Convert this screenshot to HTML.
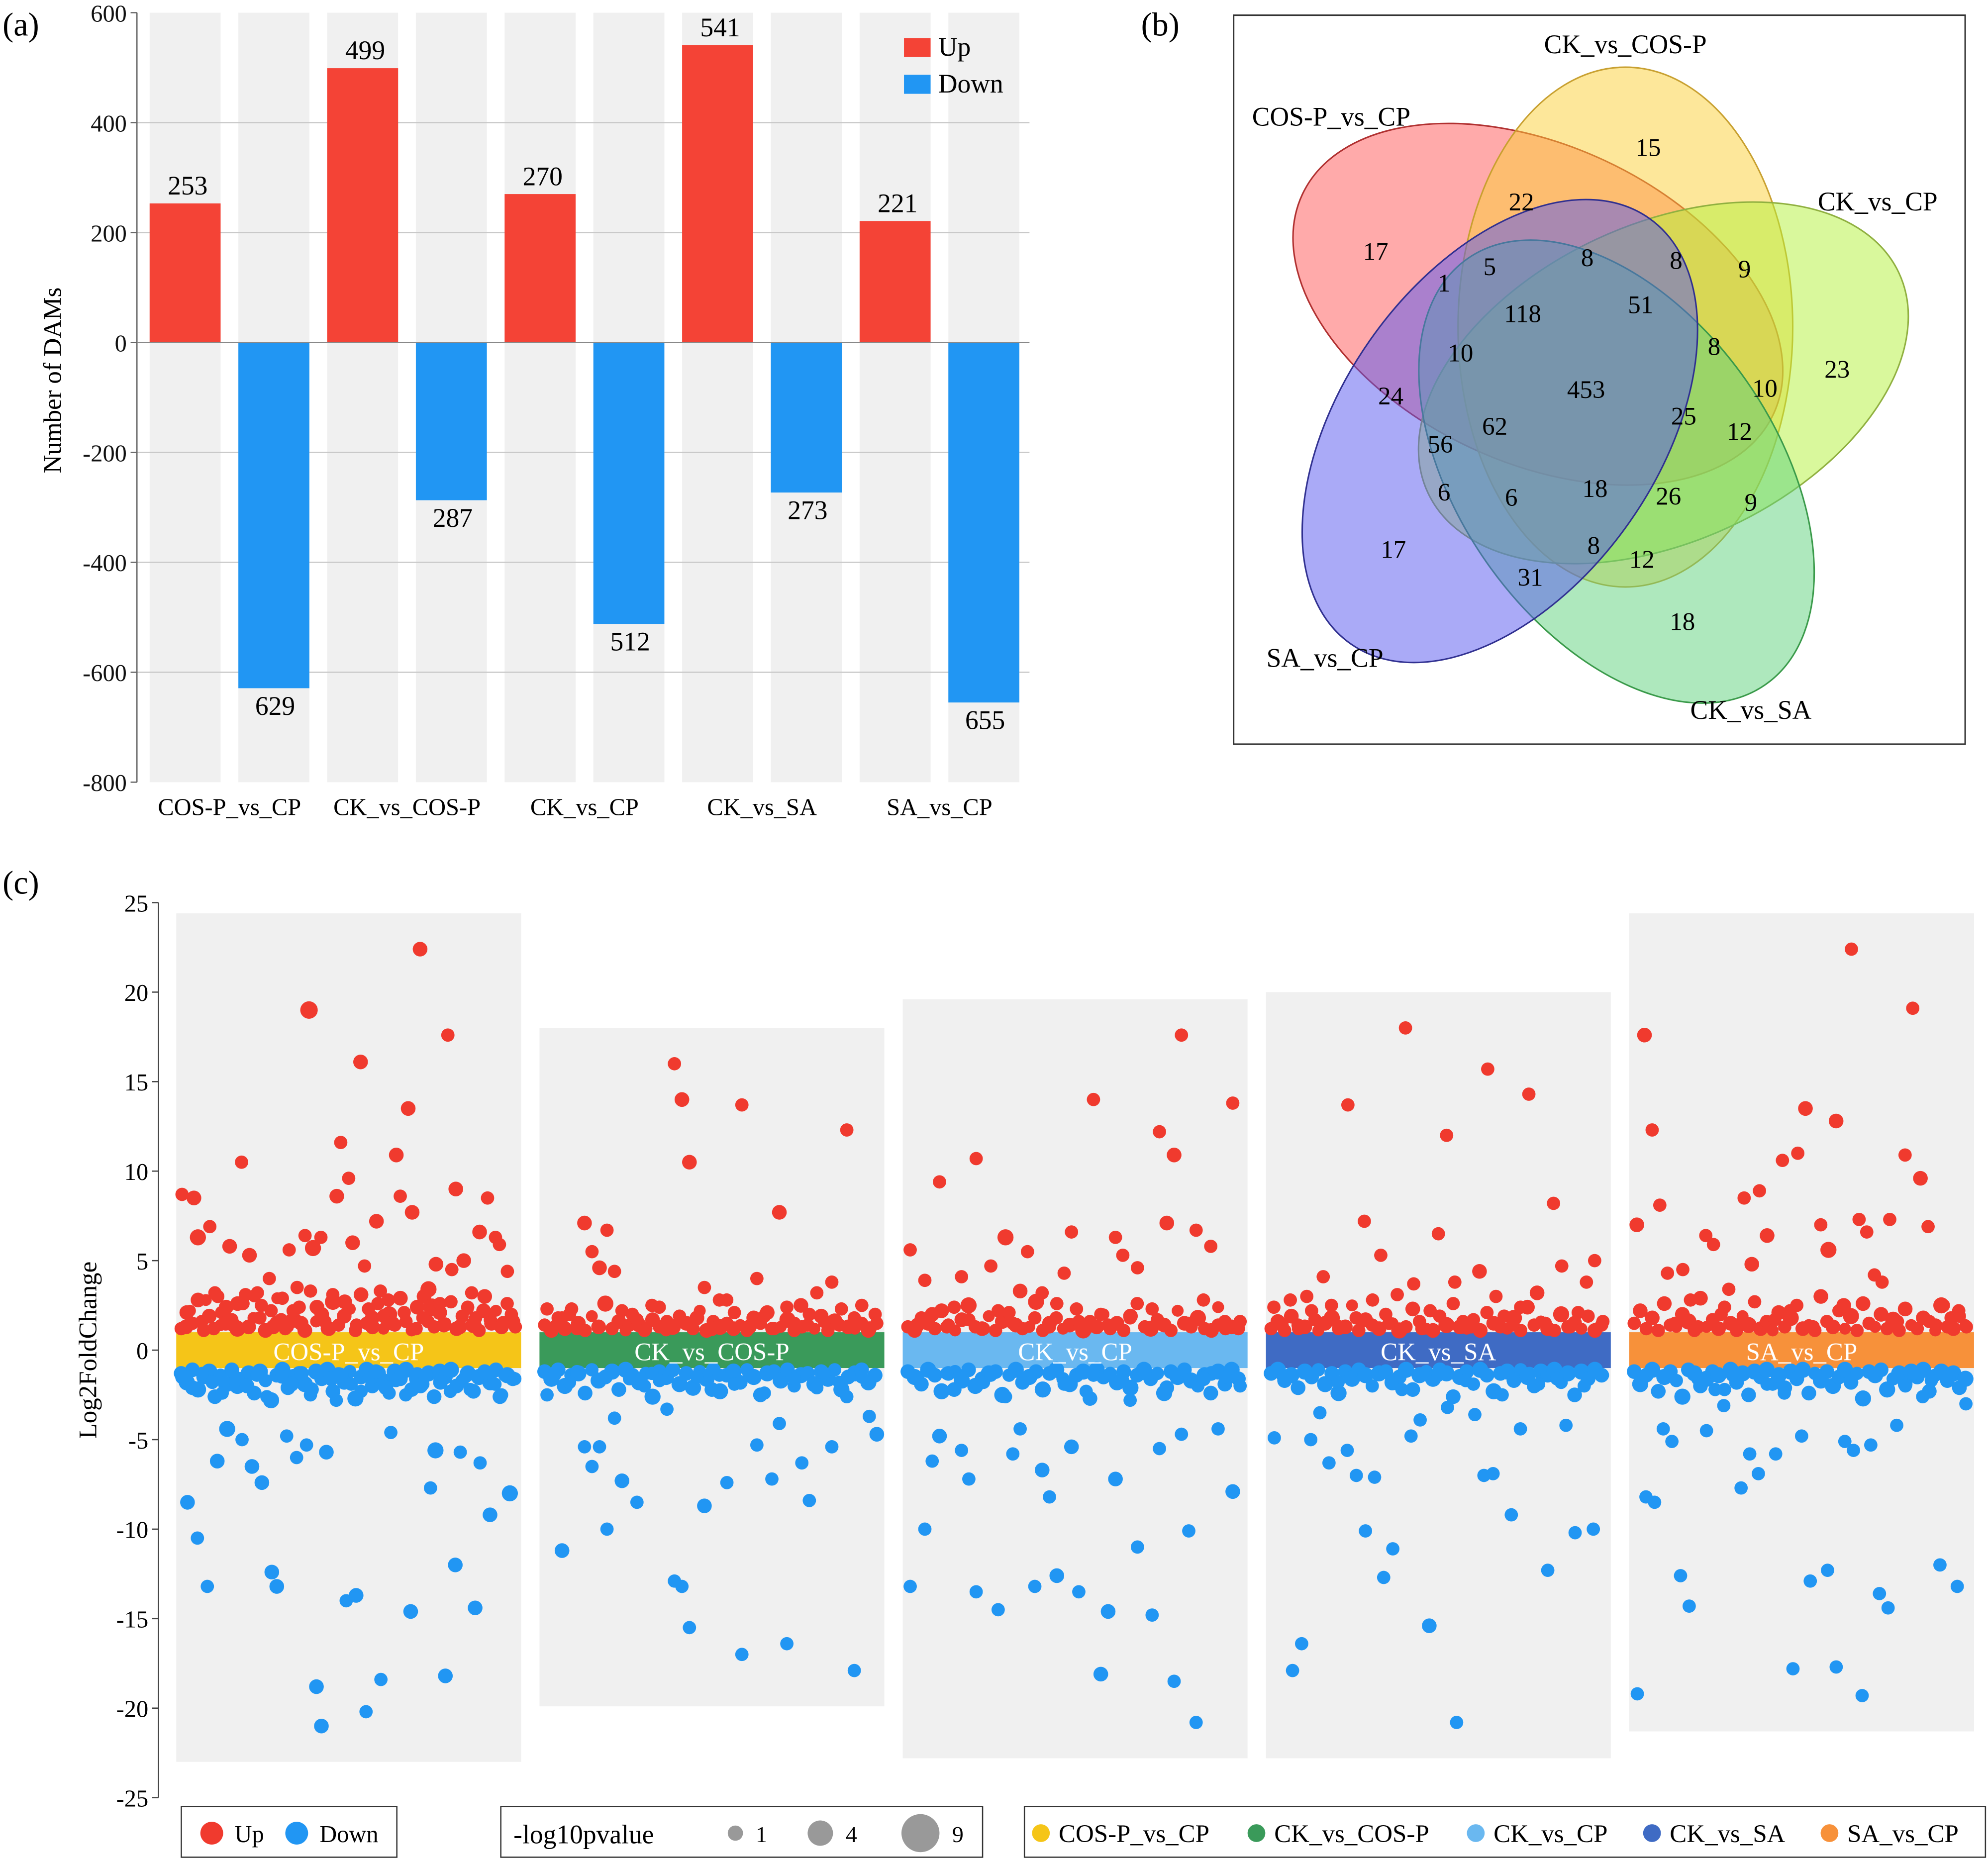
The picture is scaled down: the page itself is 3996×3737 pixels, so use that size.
<!DOCTYPE html>
<html><head><meta charset="utf-8">
<style>
html,body{margin:0;padding:0;background:#fff;}
svg{display:block;font-family:"Liberation Serif",serif;}
</style></head>
<body>
<svg id="fig" xmlns="http://www.w3.org/2000/svg" width="3996" height="3737" viewBox="0 0 1568 1466.4">
<rect x="0" y="0" width="1568" height="1467" fill="#fff"/>
<text x="2" y="28" font-size="26">(a)</text>
<text x="900" y="28" font-size="26">(b)</text>
<text x="2" y="705" font-size="26">(c)</text>
<g id="pa"></g>
<g id="pb">
<rect x="973" y="12" width="577" height="575" fill="none" stroke="#333" stroke-width="1.2"/>
<g fill-opacity="0.5" stroke-width="1.2">
<ellipse cx="1213" cy="240" rx="205" ry="125" transform="rotate(25 1213 240)" fill="#ff5555" stroke="#b03030"/>
<ellipse cx="1282" cy="258" rx="132" ry="205" fill="#fcd036" stroke="#c8a030"/>
<ellipse cx="1312" cy="302" rx="205" ry="125" transform="rotate(-25 1312 302)" fill="#b4f23a" stroke="#90b040"/>
<ellipse cx="1275" cy="372" rx="205" ry="125" transform="rotate(55 1275 372)" fill="#5dd27c" stroke="#3a9a4a"/>
<ellipse cx="1183" cy="340" rx="205" ry="125" transform="rotate(-55 1183 340)" fill="#5555f0" stroke="#303090"/>
</g>
<g id="vennLabels" font-size="20" text-anchor="middle"></g>
</g>
<g id="pc"></g>
</svg>
<script>
// ---------- Panel (a) data ----------
const aCategories = ["COS-P_vs_CP","CK_vs_COS-P","CK_vs_CP","CK_vs_SA","SA_vs_CP"];
const aUp = [253,499,270,541,221];
const aDown = [629,287,512,273,655];
const aTicks = [600,400,200,0,-200,-400,-600,-800];

// ---------- Panel (b) data ----------
const vennCounts = ["15","22","17","9","1","5","8","8","118","51","23","8","10","10","24","453","25","12","62","56","6","6","18","26","9","17","8","12","31","18"];
const vennSetNames = ["CK_vs_COS-P","COS-P_vs_CP","CK_vs_CP","SA_vs_CP","CK_vs_SA"];

// ---------- Panel (c) data ----------
const cCategories = ["COS-P_vs_CP","CK_vs_COS-P","CK_vs_CP","CK_vs_SA","SA_vs_CP"];
const cTicks = [25,20,15,10,5,0,-5,-10,-15,-20,-25];
const g1Up = [8.7,1.3,2.2,8.5,6.3,1.6,2.8,6.9,1.2,3.0,2.1,1.5,5.8,1.4,2.6,10.5,3.1,5.3,1.8,3.2,2.5,1.1,4.0,1.3,2.9,1.7,1.2,5.6,2.2,3.5,1.5,6.4,19.0,5.7,2.4,6.3,1.6,1.2,3.1,8.6,11.6,2.7,9.6,6.0,1.4,16.1,4.7,2.3,1.3,7.2,3.3,1.9,2.8,1.5,10.9,8.6,2.1,13.5,7.7,1.2,22.4,3.0,1.6,2.4,4.8,2.6,1.4,17.6,4.5,9.0,1.3,5.0,2.4,3.2,1.8,6.6,2.2,8.5,1.5,6.3,5.9,1.5,4.4,2.0,1.3];
const g1UpP = "3424532333344443342334342333334365433434343434334434344334434436434334443334434334333";
const g1Down = [-1.5,-8.5,-2.1,-10.5,-1.3,-13.2,-1.8,-6.2,-2.4,-4.4,-1.2,-1.6,-5.0,-2.0,-6.5,-1.4,-7.4,-2.6,-12.4,-13.2,-1.5,-4.8,-1.9,-6.0,-1.3,-5.3,-2.2,-18.8,-21.0,-5.7,-1.6,-2.8,-1.4,-14.0,-1.9,-13.7,-2.3,-20.2,-1.5,-1.2,-18.4,-2.1,-4.6,-1.7,-1.3,-2.5,-14.6,-1.6,-2.0,-1.4,-7.7,-5.6,-1.8,-18.2,-2.3,-12.0,-5.7,-1.5,-2.2,-14.4,-6.3,-1.3,-9.2,-1.9,-2.6,-1.4,-8.0,-1.6];
const g1DownP = "444333343534344343443343434444434334334434333343443544343334334343534";
const g2Up = [2.3,1.3,1.8,2.0,1.2,7.1,5.5,4.6,6.7,4.4,2.2,1.4,1.7,1.1,2.5,1.3,1.6,16.0,14.0,10.5,1.8,3.5,1.2,2.8,1.5,2.1,13.7,1.3,4.0,1.9,1.2,7.7,2.4,1.5,1.3,2.0,3.2,1.6,3.8,1.4,12.3,1.8,2.5,1.2,1.5];
const g2UpP = "333334343333333333444343333433343333333333343";
const g2Down = [-2.5,-1.4,-11.2,-1.8,-1.2,-5.4,-6.5,-5.4,-10.0,-3.8,-7.3,-1.6,-8.5,-2.0,-1.3,-1.7,-3.3,-12.9,-13.2,-15.5,-1.5,-8.7,-2.2,-1.4,-7.4,-1.9,-17.0,-1.3,-5.3,-2.4,-7.2,-4.1,-16.4,-1.6,-6.3,-8.4,-2.1,-1.3,-5.4,-1.8,-2.6,-17.9,-1.5,-3.7,-4.7];
const g2DownP = "334333333343333333333443333333333333333333334";
const g3Up = [5.6,1.4,3.9,2.0,9.4,1.3,2.4,4.1,1.7,10.7,1.2,4.7,2.2,6.3,1.5,3.3,5.5,1.8,3.2,1.3,2.6,4.3,6.6,1.6,1.2,14.0,2.0,1.4,6.3,5.3,1.8,4.6,1.3,2.3,12.2,7.1,10.9,17.6,1.5,6.7,2.8,5.8,1.4,1.2,13.8,1.6];
const g3UpP = "3434333333333534333333333333333333344333333333";
const g3Down = [-13.2,-1.6,-10.0,-6.2,-4.8,-1.3,-2.2,-5.6,-7.2,-13.5,-1.8,-1.4,-14.5,-2.6,-5.8,-4.4,-1.5,-13.2,-6.7,-8.2,-12.6,-1.9,-5.4,-13.5,-2.3,-1.4,-18.1,-14.6,-7.2,-1.7,-2.8,-11.0,-1.3,-14.8,-5.5,-2.1,-18.5,-4.7,-10.1,-20.8,-1.6,-2.4,-4.4,-1.5,-7.9,-2.0];
const g3DownP = "3333434333333333334343433344433333343333443343";
const g4Up = [2.4,1.4,2.8,1.2,3.0,1.7,4.1,2.5,1.3,13.7,1.8,7.2,2.8,5.3,1.5,3.1,18.0,3.7,1.2,2.2,6.5,12.0,3.8,1.6,1.3,4.4,15.7,3.0,1.9,1.4,2.4,14.3,3.2,1.5,8.2,4.7,1.3,2.1,3.8,5.0,1.6];
const g4UpP = "33333333333333333333333334333333433333333";
const g4Down = [-4.9,-1.5,-17.9,-16.4,-5.0,-3.5,-6.3,-1.8,-5.6,-7.0,-10.1,-7.1,-12.7,-11.1,-2.2,-4.8,-3.9,-15.4,-1.4,-3.2,-20.8,-1.7,-3.6,-7.0,-6.9,-2.5,-9.2,-4.4,-1.3,-1.9,-12.3,-1.6,-4.2,-10.2,-2.0,-10.0,-1.4];
const g4DownP = "3333333333333333343333333333333333333";
const g5Up = [7.0,17.6,12.3,8.1,4.3,1.5,4.5,2.8,1.3,6.4,5.9,2.0,3.4,1.4,8.5,4.8,8.9,6.4,1.7,10.6,2.2,11.0,13.5,1.3,7.0,5.6,12.8,2.5,22.4,7.3,6.6,4.2,3.8,7.3,1.6,10.9,19.1,9.6,6.9,1.4,2.5,1.8,2.2,1.3];
const g5UpP = "44333333333333343433334335443333333334333333";
const g5Down = [-19.2,-8.2,-8.5,-4.4,-5.1,-12.6,-14.3,-1.6,-4.5,-2.2,-3.1,-1.4,-7.7,-5.8,-6.9,-1.9,-5.8,-2.4,-17.8,-4.8,-12.9,-1.5,-12.3,-17.7,-5.1,-5.6,-19.3,-5.3,-13.6,-14.4,-4.2,-2.0,-1.3,-2.6,-1.7,-12.0,-1.5,-13.2,-3.0];
const g5DownP = "333333333333333333333333333333333333333";
// dense near-threshold metabolites (per group, up then down)
const g1UpDense = [1.2,2.1,1.5,2.8,1.1,1.9,3.2,1.4,2.4,1.7,1.2,2.6,1.3,3.0,1.8,1.1,2.2,1.5,2.9,1.3,1.7,2.4,1.1,3.3,1.6,2.0,1.2,2.7,1.4,1.9,2.3,1.1,3.1,1.5,1.8,2.6,1.2,2.0,1.4,2.9,1.6,1.1,2.4,1.8,3.4,1.3,2.1,1.5,2.7,1.2,1.9,2.3,1.4,1.1,3.0,1.7,2.2,1.3,2.6,1.6];
const g1DownDense = [-1.3,-1.8,-1.1,-2.2,-1.5,-1.2,-2.6,-1.4,-1.9,-1.1,-2.0,-1.6,-1.3,-2.4,-1.2,-1.7,-2.8,-1.4,-1.1,-2.1,-1.5,-1.3,-1.9,-2.5,-1.2,-1.6,-1.1,-2.3,-1.4,-1.8,-1.2,-2.7,-1.5,-1.1,-2.0,-1.3,-1.7,-2.4,-1.2,-1.6,-1.1,-2.2,-1.4,-1.9,-1.3,-2.6,-1.2,-1.5,-1.1,-2.0,-1.7,-1.3,-2.3,-1.5,-1.2,-1.8,-1.1,-2.5,-1.4,-1.6];
const g2UpDense = [1.4,1.1,1.8,1.2,2.3,1.5,1.1,1.9,1.3,2.6,1.2,1.6,1.1,2.0,1.4,1.2,1.7,2.4,1.1,1.3,1.9,1.5,1.2,2.2,1.1,1.6,1.3,2.8,1.2,1.4,1.1,1.8,1.5,2.1,1.2,1.3,1.7,1.1,2.5,1.4,1.2,1.9,1.1,1.6,2.3,1.3,1.2,1.5,1.1,2.0];
const g2DownDense = [-1.2,-1.6,-1.1,-2.0,-1.4,-1.3,-2.4,-1.1,-1.7,-1.5,-1.2,-2.2,-1.1,-1.4,-1.8,-1.3,-2.6,-1.2,-1.5,-1.1,-1.9,-1.3,-2.1,-1.2,-1.6,-1.1,-2.3,-1.4,-1.2,-1.8,-1.1,-1.5,-2.5,-1.3,-1.2,-1.7,-1.1,-2.0,-1.4,-1.3,-1.9,-1.2,-1.6,-1.1,-2.2,-1.5,-1.3,-1.1,-1.8,-1.4];
const g3UpDense = [1.3,1.1,1.8,1.5,1.2,2.2,1.4,1.1,1.7,2.5,1.3,1.2,1.9,1.1,1.6,2.1,1.4,1.2,1.3,2.7,1.1,1.5,1.8,1.2,1.4,2.3,1.1,1.6,1.3,2.0,1.2,1.5,1.1,1.9,2.6,1.3,1.2,1.7,1.4,1.1,2.2,1.5,1.3,1.8,1.2,1.1,2.4,1.6,1.3,1.2];
const g3DownDense = [-1.2,-1.5,-1.9,-1.1,-1.4,-2.3,-1.3,-1.2,-1.7,-1.1,-2.0,-1.6,-1.3,-1.2,-2.5,-1.4,-1.1,-1.8,-1.5,-1.2,-2.2,-1.3,-1.1,-1.6,-1.9,-1.4,-1.2,-2.7,-1.1,-1.5,-1.3,-1.8,-1.2,-2.1,-1.4,-1.1,-1.6,-1.3,-2.4,-1.2,-1.5,-1.1,-1.7,-2.0,-1.4,-1.3,-1.2,-1.9,-1.1,-1.6];
const g4UpDense = [1.2,1.6,1.1,1.9,1.4,1.3,2.2,1.1,1.5,1.8,1.2,1.3,2.5,1.1,1.7,1.4,1.2,2.0,1.5,1.1,1.3,2.3,1.6,1.2,1.1,1.9,1.4,2.6,1.3,1.2,1.7,1.1,2.1,1.5,1.3,1.2,1.8,1.1,2.4,1.4,1.6,1.2,1.1,2.0,1.3,1.5,1.2,1.9,1.1,1.4];
const g4DownDense = [-1.3,-1.1,-1.7,-1.4,-2.1,-1.2,-1.5,-1.1,-1.9,-1.3,-2.4,-1.2,-1.6,-1.1,-1.4,-2.0,-1.3,-1.2,-1.8,-1.5,-1.1,-2.2,-1.4,-1.2,-1.6,-1.1,-1.3,-2.6,-1.5,-1.2,-1.9,-1.1,-1.4,-2.3,-1.3,-1.2,-1.7,-1.1,-1.5,-2.0,-1.2,-1.4,-1.1,-1.8,-1.3,-2.5,-1.2,-1.6,-1.1,-1.4];
const g5UpDense = [1.5,2.2,1.2,1.8,1.1,2.6,1.4,1.3,2.0,1.6,1.1,2.9,1.3,1.7,1.2,2.4,1.5,1.1,1.9,1.4,2.7,1.2,1.6,1.1,2.1,1.3,1.8,2.5,1.2,1.4,1.1,3.0,1.6,1.3,2.2,1.2,1.9,1.1,2.6,1.5,1.3,2.0,1.2,1.7,1.1,2.3,1.4,1.2,1.8,1.6,1.1,2.5,1.3,1.2,1.9,1.4];
const g5DownDense = [-1.2,-1.9,-1.4,-1.1,-2.3,-1.5,-1.2,-1.7,-2.6,-1.1,-1.3,-2.0,-1.6,-1.2,-1.4,-2.2,-1.1,-1.8,-1.3,-2.5,-1.2,-1.5,-1.1,-1.9,-1.4,-2.1,-1.2,-1.6,-1.1,-2.4,-1.3,-1.7,-1.2,-2.0,-1.5,-1.1,-1.8,-1.3,-2.7,-1.2,-1.4,-1.1,-2.2,-1.6,-1.3,-1.9,-1.2,-1.5,-1.1,-2.3,-1.4,-1.2,-1.7,-1.3,-2.1,-1.6];
const g1UpDenseP = "343434324353423434325343243534234343253432435342343253432434";
const g2UpDenseP = "34343432453423434325343243534234343253432435342343";
const g3UpDenseP = "34343432453423434325343243534234343253432435342343";
const g4UpDenseP = "34343432453423434325343243534234343253432435342343";
const g5UpDenseP = "34343432453423434325343243534234343253432435342343253432";
const g1DownDenseP = "454545435454545354545453545454354545435454535454543545454354";
const g2DownDenseP = "45454543545454535454545354545435454543545453545454";
const g3DownDenseP = "45454543545454535454545354545435454543545453545454";
const g4DownDenseP = "45454543545454535454545354545435454543545453545454";
const g5DownDenseP = "45454543545454535454545354545435454543545453545454354545";

const NS = "http://www.w3.org/2000/svg";
function mk(tag, attrs, parent, txt){
  const e = document.createElementNS(NS, tag);
  for (const k in attrs) e.setAttribute(k, attrs[k]);
  if (txt !== undefined) e.textContent = txt;
  parent.appendChild(e);
  return e;
}

// ---------- Panel (a) ----------
(function(){
  const g = document.getElementById('pa');
  const top = 10, bot = 617, left = 108, right = 812;
  const yMax = 600, yMin = -800;
  const y = v => top + (yMax - v) / (yMax - yMin) * (bot - top);
  const colStart = 118, step = 70, w = 56;
  for (let i = 0; i < aCategories.length * 2; i++) {
    const r = mk('rect', {x: colStart + i*step, y: top, width: w, height: bot - top, fill: '#f0f0f0'}, g);
    
    
  }
  aTicks.forEach(t => {
    if (t !== yMax && t !== yMin && t !== 0) {
      const l = mk('line', {x1: left, x2: right, y1: y(t), y2: y(t), stroke: '#c8c8c8', 'stroke-width': 1}, g);
      
      
    }
    const tk = mk('line', {x1: left - 5, x2: left, y1: y(t), y2: y(t), stroke: '#666'}, g);
    
    
    const tx = mk('text', {x: left - 8, y: y(t) + 7, 'font-size': 19, 'text-anchor': 'end', fill: '#111'}, g, String(t));
    
    
  });
  aCategories.forEach((c, i) => {
    const xu = colStart + (2*i)*step, xd = colStart + (2*i+1)*step;
    const bu = mk('rect', {x: xu, y: y(aUp[i]), width: w, height: y(0) - y(aUp[i]), fill: '#f44336'}, g);
    
    
    const bd = mk('rect', {x: xd, y: y(0), width: w, height: y(-aDown[i]) - y(0), fill: '#2196f3'}, g);
    
    
    const lu = mk('text', {x: xu + w/2 + 2, y: y(aUp[i]) - 7, 'font-size': 21, 'text-anchor': 'middle'}, g, String(aUp[i]));
    
    
    const ld = mk('text', {x: xd + w/2 + 1, y: y(-aDown[i]) + 21, 'font-size': 21, 'text-anchor': 'middle'}, g, String(aDown[i]));
    
    
    const xl = mk('text', {x: xu + w + 7, y: 643, 'font-size': 19, 'text-anchor': 'middle'}, g, c);
    
    
  });
  const ax = mk('line', {x1: left, x2: left, y1: top, y2: bot, stroke: '#666'}, g);
  
  
  const zx = mk('line', {x1: left, x2: right, y1: y(0), y2: y(0), stroke: '#888'}, g);
  
  
  const yt = mk('text', {x: 48, y: 300, 'font-size': 20, 'text-anchor': 'middle', transform: 'rotate(-90 48 300)'}, g, 'Number of DAMs');
  
  
  [['Up','#f44336',30],['Down','#2196f3',59]].forEach(([n,c,yy]) => {
    const s = mk('rect', {x: 713, y: yy, width: 21, height: 15, fill: c}, g);
    
    
    const t = mk('text', {x: 740, y: yy + 14, 'font-size': 21}, g, n);
    
    
  });
})();

// ---------- Panel (b) labels ----------
(function(){
  const g = document.getElementById('vennLabels');
  const pos = [[1300,123],[1200,166],[1085,205],[1376,219],[1139,230],[1175,217],[1252,210],[1322,212],[1201,254],[1294,247],[1449,298],[1352,280],[1152,285],[1392,313],[1097,319],[1251,314],[1328,335],[1372,347],[1179,343],[1136,357],[1139,395],[1192,399],[1258,392],[1316,398],[1381,403],[1099,440],[1257,437],[1295,448],[1207,462],[1327,497]];
  vennCounts.forEach((v,i) => {
    const t = mk('text', {x: pos[i][0], y: pos[i][1]}, g, v);
    
    
  });
  const npos = [[1282,42],[1050,99],[1481,166],[1045,526],[1381,567]];
  vennSetNames.forEach((n,i) => {
    const t = mk('text', {x: npos[i][0], y: npos[i][1], 'font-size': 21}, g, n);
    
    
  });
})();

// ---------- Panel (c) ----------
(function(){
  const g = document.getElementById('pc');
  const top = 712, bot = 1418, axisX = 125;
  const vMax = 25, vMin = -25;
  const y = v => top + (vMax - v) / (vMax - vMin) * (bot - top);
  const groups = [
    [g1Up,g1UpP,g1Down,g1DownP,g1UpDense,g1UpDenseP,g1DownDense,g1DownDenseP],
    [g2Up,g2UpP,g2Down,g2DownP,g2UpDense,g2UpDenseP,g2DownDense,g2DownDenseP],
    [g3Up,g3UpP,g3Down,g3DownP,g3UpDense,g3UpDenseP,g3DownDense,g3DownDenseP],
    [g4Up,g4UpP,g4Down,g4DownP,g4UpDense,g4UpDenseP,g4DownDense,g4DownDenseP],
    [g5Up,g5UpP,g5Down,g5DownP,g5UpDense,g5UpDenseP,g5DownDense,g5DownDenseP]];
  const bandColors = ['#f5c518','#3a9a5a','#6ab8f0','#3f6bc4','#f7913a'];
  const panelX0 = 139, panelStep = 286.5, panelW = 272;
  const rad = p => 3.6 + 0.55 * p;
  groups.forEach((gr, i) => {
    const [up, upP, dn, dnP, upD, upDP, dnD, dnDP] = gr;
    const x0 = panelX0 + i * panelStep;
    const hi = Math.max(...up) + 2, lo = Math.min(...dn) - 2;
    const bg = mk('rect', {x: x0, y: y(hi), width: panelW, height: y(lo) - y(hi), fill: '#f0f0f0'}, g);
    
    
    const band = mk('rect', {x: x0, y: y(1), width: panelW, height: y(-1) - y(1), fill: bandColors[i]}, g);
    
    
    const draw = (vals, ps, col, nm, off) => {
      vals.forEach((v, k) => {
        const cx = x0 + 3 + (k + off) / vals.length * (panelW - 6);
        const p = parseInt(ps[k] || '3', 10);
        const c = mk('circle', {cx: cx, cy: y(v), r: rad(p), fill: col}, g);
        
        
      });
    };
    draw(upD, upDP, '#f03a2e', 'point-up', 0.2);
    draw(dnD, dnDP, '#2196f3', 'point-down', 0.2);
    draw(up, upP, '#f03a2e', 'point-up', 0.5);
    draw(dn, dnP, '#2196f3', 'point-down', 0.5);
    const lbl = mk('text', {x: x0 + panelW/2, y: y(0) + 8, 'font-size': 20, fill: '#fff', 'text-anchor': 'middle'}, g, cCategories[i]);
    
    
  });
  const ax = mk('line', {x1: axisX, x2: axisX, y1: top, y2: bot, stroke: '#444'}, g);
  
  
  cTicks.forEach(t => {
    const tk = mk('line', {x1: axisX - 5, x2: axisX, y1: y(t), y2: y(t), stroke: '#444'}, g);
    
    
    const tx = mk('text', {x: axisX - 8, y: y(t) + 7, 'font-size': 19, 'text-anchor': 'end'}, g, String(t));
    
    
  });
  const yt = mk('text', {x: 76, y: 1065, 'font-size': 20, 'text-anchor': 'middle', transform: 'rotate(-90 76 1065)'}, g, 'Log2FoldChange');
  
  

  // legends
  const L1 = mk('rect', {x: 143, y: 1425, width: 170, height: 40, fill: 'none', stroke: '#333'}, g);
  
  
  [['Up','#f03a2e',167],['Down','#2196f3',234]].forEach(([n,c,x]) => {
    const d = mk('circle', {cx: x, cy: 1446, r: 9, fill: c}, g);
    
    
    const t = mk('text', {x: x + 18, y: 1453, 'font-size': 19}, g, n);
    
    
  });
  const L2 = mk('rect', {x: 395, y: 1425, width: 380, height: 40, fill: 'none', stroke: '#333'}, g);
  
  
  const lt = mk('text', {x: 405, y: 1454, 'font-size': 21}, g, '-log10pvalue');
  
  
  [['1',6,580],['4',10,647],['9',15,726]].forEach(([n,r,x]) => {
    const d = mk('circle', {cx: x, cy: 1446, r: r, fill: '#999'}, g);
    
    
    const t = mk('text', {x: x + r + 10, y: 1453, 'font-size': 18}, g, n);
    
    
  });
  const L3 = mk('rect', {x: 808, y: 1425, width: 758, height: 40, fill: 'none', stroke: '#333'}, g);
  
  
  const lx = [821, 991, 1164, 1303, 1443];
  cCategories.forEach((n, i) => {
    const d = mk('circle', {cx: lx[i], cy: 1446, r: 7, fill: bandColors[i]}, g);
    
    
    const t = mk('text', {x: lx[i] + 14, y: 1453, 'font-size': 20}, g, n);
    
    
  });
})();
</script>
</body></html>
